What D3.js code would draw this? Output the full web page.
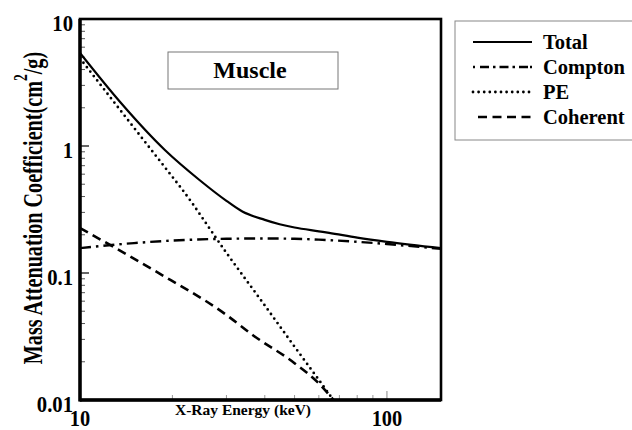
<!DOCTYPE html>
<html>
<head>
<meta charset="utf-8">
<script src="https://cdn.jsdelivr.net/npm/d3@7"></script>
<style>
  body { margin: 0; background: #fff; }
  text { font-family: "Liberation Serif", "Times New Roman", serif; font-weight: bold; fill: #000; }
</style>
</head>
<body>
<div id="output"></div>
<script>
// energies (keV) and coefficients (cm^2/g)
const totalE = [10, 13.6, 18.9, 24.5, 30, 33.8, 40, 44.7, 50, 60, 64.8, 80, 100, 150];
const totalV = [5.4, 2.18, 0.93, 0.54, 0.37, 0.305, 0.262, 0.242, 0.228, 0.213, 0.207, 0.19, 0.176, 0.157];
const comptonE = [10, 15, 20, 30, 40, 50, 60, 80, 100, 150];
const comptonV = [0.157, 0.172, 0.18, 0.186, 0.187, 0.186, 0.183, 0.176, 0.169, 0.155];
const peE = [10, 15, 20, 21.3, 30, 40, 50, 60, 67, 70];
const peV = [4.9, 1.39, 0.571, 0.47, 0.144, 0.0555, 0.0263, 0.0144, 0.01, 0.0088];
const cohE = [10, 17.3, 30, 36.5, 50, 60, 67, 70];
const cohV = [0.226, 0.106, 0.0467, 0.0325, 0.0195, 0.0135, 0.01, 0.0088];
const yTicks = [0.01, 0.1, 1, 10];
const yTickLabels = ["0.01", "0.1", "1", "10"];
const xTicks = [10, 100];
const seriesNames = ["Total", "Compton", "PE", "Coherent"];

const W = 632, H = 430;
const pLeft = 80, pTop = 19, pRight = 441, pBottom = 400;

const svg = d3.select('#output').append('svg')
  .attr('width', W).attr('height', H);

const x = d3.scaleLog().domain([10, 150]).range([pLeft, pRight]);
const y = d3.scaleLog().domain([0.01, 10]).range([pBottom, pTop]);

const styles = {
  Total: { dash: null, width: 2.2, cap: 'butt' },
  Compton: { dash: '11,5,2.5,5', width: 2.4, cap: 'butt' },
  PE: { dash: '0,5.6', width: 2.8, cap: 'round' },
  Coherent: { dash: '9,5.5', width: 2.6, cap: 'butt' }
};

const series = [
  { name: 'Total', e: totalE, v: totalV },
  { name: 'Compton', e: comptonE, v: comptonV },
  { name: 'PE', e: peE, v: peV },
  { name: 'Coherent', e: cohE, v: cohV }
];

svg.append('clipPath').attr('id', 'clip')
  .append('rect').attr('x', pLeft).attr('y', pTop)
  .attr('width', pRight - pLeft).attr('height', pBottom - pTop);

// minor ticks, y axis (inside, left)
const yMinor = [];
[0.01, 0.1, 1].forEach(d => { for (let k = 2; k <= 9; k++) yMinor.push(d * k); });
svg.append('g').selectAll('line').data(yMinor).join('line')
  .attr('x1', pLeft).attr('x2', pLeft + 5)
  .attr('y1', d => y(d)).attr('y2', d => y(d))
  .attr('stroke', '#555').attr('stroke-width', 1);
svg.append('g').selectAll('line').data(yTicks).join('line')
  .attr('x1', pLeft).attr('x2', pLeft + 9)
  .attr('y1', d => y(d)).attr('y2', d => y(d))
  .attr('stroke', '#000').attr('stroke-width', 1.2);

// minor ticks, x axis (inside, bottom)
const xMinor = [20, 30, 40, 50, 60, 70, 80, 90];
svg.append('g').selectAll('line').data(xMinor).join('line')
  .attr('x1', d => x(d)).attr('x2', d => x(d))
  .attr('y1', pBottom).attr('y2', pBottom - 5)
  .attr('stroke', '#999').attr('stroke-width', 1);
svg.append('line')
  .attr('x1', x(100)).attr('x2', x(100))
  .attr('y1', pBottom).attr('y2', pBottom - 9)
  .attr('stroke', '#888').attr('stroke-width', 1);

// curves
const line = d3.line()
  .x(d => x(d[0])).y(d => y(d[1]))
  .curve(d3.curveMonotoneX);

const curves = svg.append('g').attr('clip-path', 'url(#clip)');
series.forEach(s => {
  const st = styles[s.name];
  curves.append('path')
    .datum(s.e.map((e, i) => [e, s.v[i]]))
    .attr('d', line)
    .attr('fill', 'none')
    .attr('stroke', '#000')
    .attr('stroke-width', st.width)
    .attr('stroke-linecap', st.cap)
    .attr('stroke-dasharray', st.dash);
});

// frame
svg.append('rect')
  .attr('x', pLeft).attr('y', pTop)
  .attr('width', pRight - pLeft).attr('height', pBottom - pTop)
  .attr('fill', 'none').attr('stroke', '#000').attr('stroke-width', 2.6);
svg.append('line').attr('x1', pLeft).attr('x2', pLeft)
  .attr('y1', pTop).attr('y2', pBottom + 1.5)
  .attr('stroke', '#000').attr('stroke-width', 3.4);
svg.append('line').attr('x1', pLeft).attr('x2', pRight)
  .attr('y1', pBottom).attr('y2', pBottom)
  .attr('stroke', '#000').attr('stroke-width', 3.4);

// tick labels
svg.append('g').selectAll('text').data(yTicks).join('text')
  .attr('transform', d => `translate(${pLeft - 7},${y(d) + 12}) scale(0.9,1)`)
  .attr('text-anchor', 'end')
  .style('font-size', '23px')
  .text((d, i) => yTickLabels[i]);

svg.append('g').selectAll('text').data(xTicks).join('text')
  .attr('transform', d => `translate(${x(d)},426) scale(0.85,1)`)
  .attr('text-anchor', 'middle')
  .style('font-size', '24px')
  .text(d => d);

// axis titles
svg.append('text')
  .attr('x', 243).attr('y', 415)
  .attr('text-anchor', 'middle')
  .style('font-size', '15.5px')
  .text('X-Ray Energy (keV)');

const yt = svg.append('text')
  .attr('transform', 'translate(42,208) rotate(-90) scale(0.72,1)')
  .attr('text-anchor', 'middle')
  .style('font-size', '28px');
yt.append('tspan').text('Mass Attenuation Coefficient(cm');
yt.append('tspan').attr('dy', -15).style('font-size', '19px').text('2');
yt.append('tspan').attr('dy', 15).text('/g)');

// Muscle label box
svg.append('rect')
  .attr('x', 168).attr('y', 52).attr('width', 170).attr('height', 37)
  .attr('fill', '#fff').attr('stroke', '#777').attr('stroke-width', 1);
svg.append('text')
  .attr('x', 250).attr('y', 78)
  .attr('text-anchor', 'middle')
  .style('font-size', '24px')
  .text('Muscle');

// legend
svg.append('rect')
  .attr('x', 455).attr('y', 21).attr('width', 185).attr('height', 119)
  .attr('fill', '#fff').attr('stroke', '#888').attr('stroke-width', 1);

const legendY = d3.scalePoint().domain(seriesNames).range([42, 117]);
const leg = svg.append('g').selectAll('g').data(seriesNames).join('g')
  .attr('transform', d => `translate(0,${legendY(d)})`);
leg.append('line')
  .attr('x1', d => d === 'Coherent' ? 478 : 473).attr('x2', 532)
  .attr('y1', 0).attr('y2', 0)
  .attr('stroke', '#000')
  .attr('stroke-width', d => styles[d].width)
  .attr('stroke-linecap', d => styles[d].cap)
  .attr('stroke-dasharray', d => d === 'Compton' ? '2,5,9,4,2.5,4,9,4,2.5,4,9' : styles[d].dash);
leg.append('text')
  .attr('x', 543).attr('y', 7)
  .style('font-size', '20.5px')
  .text(d => d);
</script>
</body>
</html>
